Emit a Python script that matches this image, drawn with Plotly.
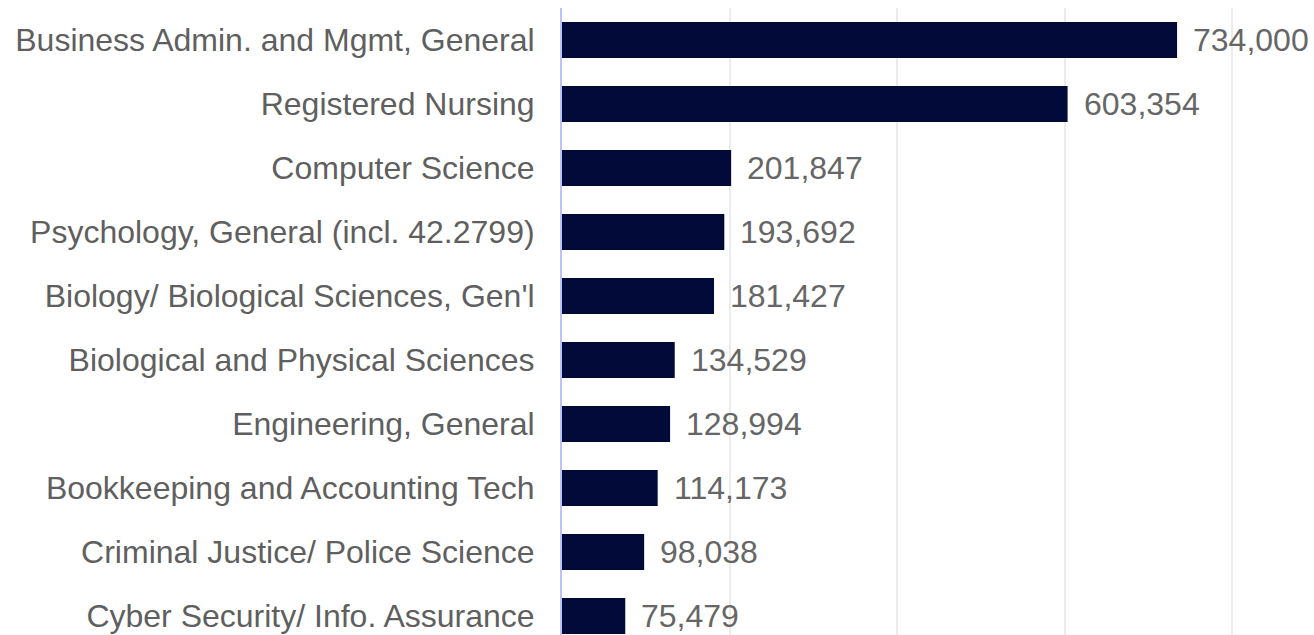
import plotly.graph_objects as go

categories = [
    "Business Admin. and Mgmt, General",
    "Registered Nursing",
    "Computer Science",
    "Psychology, General (incl. 42.2799)",
    "Biology/ Biological Sciences, Gen'l",
    "Biological and Physical Sciences",
    "Engineering, General",
    "Bookkeeping and Accounting Tech",
    "Criminal Justice/ Police Science",
    "Cyber Security/ Info. Assurance",
]
values = [734000, 603354, 201847, 193692, 181427, 134529, 128994, 114173, 98038, 75479]
value_labels = [f"{v:,}" for v in values]
grid_ticks = [0, 200000, 400000, 600000, 800000]

BAR = "#020a3a"
TXT = "#5f5f5f"
FONT = "Liberation Sans, Arial, sans-serif"

fig = go.Figure()
fig.add_trace(go.Bar(
    x=values, y=categories, orientation="h",
    marker=dict(color=BAR, line=dict(width=0)),
    width=0.5625,
    hoverinfo="skip",
))

for c, v, lab in zip(categories, values, value_labels):
    fig.add_annotation(
        x=v, y=c, text=lab, showarrow=False,
        xanchor="left", yanchor="middle", xshift=14,
        font=dict(family=FONT, size=32, color="#666666"),
    )

fig.update_layout(
    width=1314, height=635,
    margin=dict(l=562, r=0, t=8, b=0, pad=0),
    plot_bgcolor="white", paper_bgcolor="white",
    showlegend=False,
    bargap=0.4375,
    font=dict(family=FONT, size=32, color=TXT),
)
fig.update_xaxes(
    range=[0, 897400],
    tickvals=grid_ticks, showticklabels=False,
    showgrid=True, gridcolor="#ececec", gridwidth=2,
    zeroline=False, showline=False,
)
fig.update_yaxes(
    type="category",
    range=[9.297, -0.5],
    showgrid=False, zeroline=False,
    showline=True, linecolor="#b8c4fa", linewidth=2,
    ticks="outside", ticklen=19, tickcolor="rgba(0,0,0,0)",
    tickfont=dict(family=FONT, size=32, color=TXT),
)

fig.write_html(
    "out.html",
    config={"displayModeBar": False, "staticPlot": True},
    post_script="document.body.style.margin='0';document.body.style.overflow='hidden';",
)
